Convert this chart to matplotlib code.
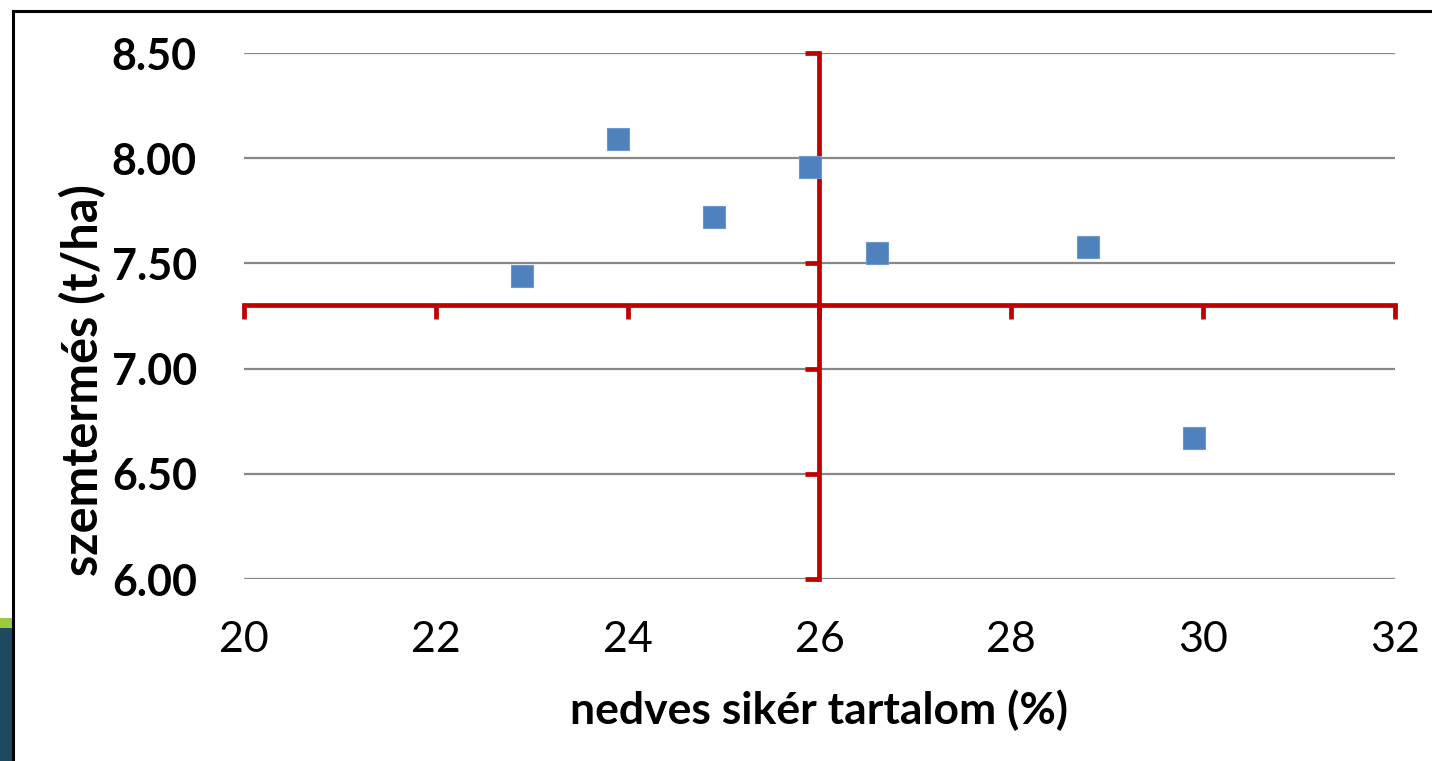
import matplotlib.pyplot as plt
from matplotlib.lines import Line2D
from matplotlib.patches import Rectangle

plt.rcParams['font.family'] = ['Lato', 'DejaVu Sans']

# data
siker = [22.9, 23.9, 24.9, 25.9, 26.6, 28.8, 29.9]
termes = [7.44, 8.09, 7.72, 7.96, 7.55, 7.58, 6.67]

x_ticks = [20, 22, 24, 26, 28, 30, 32]
y_ticks = [6.00, 6.50, 7.00, 7.50, 8.00, 8.50]
x_cross = 26      # where the red y axis sits
y_cross = 7.30    # where the red x axis sits

red = '#C00000'
blue = '#4F81BD'

fig = plt.figure(figsize=(14.32, 7.61), dpi=100)
rect = [244/1432, 1 - 579/761, (1395 - 244)/1432, (579 - 53)/761]

# slide leftovers: frame + background strip on the left
fig.add_artist(Rectangle((0, 0), 12/1432, 1 - 618/761, transform=fig.transFigure,
                         color='#1E4A5F', lw=0))
fig.add_artist(Rectangle((0, 1 - 628/761), 12/1432, 10/761, transform=fig.transFigure,
                         color='#9BCB3C', lw=0))
fig.add_artist(Line2D([13/1432, 13/1432], [0, 1 - 11/761], transform=fig.transFigure,
                      color='black', lw=2.2))
fig.add_artist(Line2D([13/1432, 1], [1 - 11/761, 1 - 11/761], transform=fig.transFigure,
                      color='black', lw=2.2))

# main axes: grid and labels at the edges
ax = fig.add_axes(rect)
ax.set_xlim(x_ticks[0], x_ticks[-1])
ax.set_ylim(y_ticks[0], y_ticks[-1])
ax.set_xticks(x_ticks)
ax.set_yticks(y_ticks)
ax.set_xticklabels([str(t) for t in x_ticks], fontsize=31)
ax.set_yticklabels([f'{t:.2f}' for t in y_ticks], fontsize=31, fontweight='bold')
ax.tick_params(length=0)
ax.tick_params(axis='y', pad=34)
ax.tick_params(axis='x', pad=30)
for s in ax.spines.values():
    s.set_visible(False)
ax.grid(axis='y', color='#888888', lw=1.6)
ax.set_axisbelow(True)
ax.set_xlabel('nedves sikér tartalom (%)', fontsize=32, fontweight='bold', labelpad=22)
ax.set_ylabel('szemtermés (t/ha)', fontsize=35, fontweight='bold')
ax.yaxis.set_label_coords(-0.12, 0.378)

# overlay axes: red crossing axes
ax2 = fig.add_axes(rect, sharex=ax, sharey=ax)
ax2.patch.set_alpha(0)
ax2.spines['left'].set_position(('data', x_cross))
ax2.spines['bottom'].set_position(('data', y_cross))
ax2.spines['top'].set_visible(False)
ax2.spines['right'].set_visible(False)
for side in ['left', 'bottom']:
    ax2.spines[side].set_color(red)
    ax2.spines[side].set_linewidth(3.4)
ax2.tick_params(direction='out', color=red, width=3.4, length=10,
                labelbottom=False, labelleft=False)

ax2.plot(siker, termes, linestyle='none', marker='s', markersize=16,
         color=blue, markeredgecolor='#6A98CF', markeredgewidth=0.8, zorder=5)

fig.savefig('out.png', dpi=100)
